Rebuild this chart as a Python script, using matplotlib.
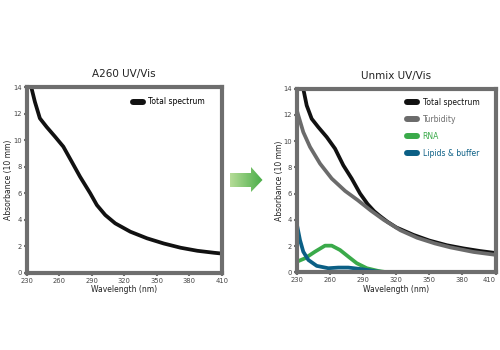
import numpy as np
import matplotlib
matplotlib.use('Agg')
import matplotlib.pyplot as plt
from matplotlib.patches import Polygon

plt.rcParams['font.family'] = ['DejaVu Sans']

# data
wl_left = [232.5, 234.6, 237.7, 242.3, 248.5, 256.2, 263.9, 271.6, 279.3, 288.6, 294.8, 302.5,
           311.7, 325.6, 341, 356.4, 371.9, 387.3, 402.7, 410]
total_left = [15.0, 13.93, 12.9, 11.65, 11.0, 10.27, 9.51, 8.38, 7.24, 6.0, 5.1, 4.35,
              3.72, 3.09, 2.59, 2.2, 1.88, 1.65, 1.5, 1.44]

wl_total = [234.2, 235.7, 238.8, 243.3, 249.3, 257, 264.5, 272, 279.6, 287.2, 294, 300,
            305, 312, 320, 335.6, 350, 365.9, 381, 396, 410]
total_right = [15.0, 13.98, 12.71, 11.7, 11.06, 10.3, 9.42, 8.15, 7.14, 6.0, 5.2, 4.65,
               4.3, 3.85, 3.42, 2.85, 2.42, 2.06, 1.82, 1.62, 1.47]

wl_turb = [230, 231.2, 235.7, 241.8, 250.9, 261.5, 273.6, 285, 297, 308.6, 323.8, 339,
           355, 369, 390, 410]
turbidity = [12.3, 11.95, 10.68, 9.55, 8.28, 7.14, 6.2, 5.5, 4.7, 4.0, 3.2, 2.63,
             2.2, 1.9, 1.55, 1.33]

wl_rna = [230, 237.3, 246.3, 255.4, 261.5, 269, 276.6, 284.2, 293.3, 303.8, 312, 410]
rna = [0.81, 1.07, 1.57, 2.03, 2.03, 1.7, 1.19, 0.69, 0.31, 0.1, 0.0, 0.0]

wl_lip = [230, 230.6, 232.7, 235.7, 240.3, 247.9, 258.4, 267.5, 276.6, 288.7, 300.8, 310, 410]
lipids = [3.6, 3.35, 2.46, 1.57, 0.94, 0.49, 0.31, 0.36, 0.36, 0.24, 0.08, 0.0, 0.0]

xticks = [230, 260, 290, 320, 350, 380, 410]
yticks = [0, 2, 4, 6, 8, 10, 12, 14]

c_total = '#111111'
c_turb = '#6b6b6b'
c_rna = '#3aaa4a'
c_lip = '#0b5f85'
c_frame = '#6e6e6e'
lw = 2.7


def style_ax(ax, title):
    ax.set_xlim(230, 410)
    ax.set_ylim(0, 14)
    ax.set_xticks(xticks)
    ax.set_yticks(yticks)
    for s in ax.spines.values():
        s.set_color(c_frame)
        s.set_linewidth(3)
    ax.tick_params(axis='both', labelsize=4.9, colors=c_frame, labelcolor='#444444',
                   length=2, width=1.5, pad=1.5)
    ax.set_xlabel('Wavelength (nm)', fontsize=5.5, labelpad=1, color='#222222')
    ax.set_ylabel('Absorbance (10 mm)', fontsize=5.5, labelpad=0, color='#222222')
    ax.set_title(title, fontsize=7.5, pad=7, color='#222222')


def draw(ax, x, y, color, label):
    ax.plot(x, y, color=color, lw=lw, solid_capstyle='round', solid_joinstyle='round', label=label)


def add_legend(ax, anchor, colored):
    leg = ax.legend(loc='upper right', fontsize=5.5, frameon=False, handlelength=1.3,
                    handletextpad=0.7, borderaxespad=0, borderpad=0, labelspacing=1.05,
                    bbox_to_anchor=anchor, labelcolor='linecolor' if colored else None)
    for ln in leg.get_lines():
        ln.set_linewidth(4.3)
        ln.set_solid_capstyle('round')


fig = plt.figure(figsize=(5, 3.5), dpi=100)
ax1 = fig.add_axes([0.053, 0.221, 0.391, 0.530])
ax2 = fig.add_axes([0.594, 0.222, 0.397, 0.525])

draw(ax1, wl_left, total_left, c_total, 'Total spectrum')
style_ax(ax1, 'A260 UV/Vis')
add_legend(ax1, (0.913, 0.945), False)

draw(ax2, wl_total, total_right, c_total, 'Total spectrum')
draw(ax2, wl_turb, turbidity, c_turb, 'Turbidity')
draw(ax2, wl_rna, rna, c_rna, 'RNA')
draw(ax2, wl_lip, lipids, c_lip, 'Lipids & buffer')
style_ax(ax2, 'Unmix UV/Vis')
add_legend(ax2, (0.919, 0.95), True)
# keep the last tick label inside the figure
ax2.get_xticklabels()[-1].set_horizontalalignment('right')

# green gradient arrow between the panels
arr = fig.add_axes([0, 0, 1, 1], zorder=-1)
arr.set_xlim(0, 500)
arr.set_ylim(350, 0)
arr.axis('off')
pts = [(230, 173), (251, 173), (251, 167), (262.5, 180), (251, 192), (251, 187), (230, 187)]
poly = Polygon(pts, closed=True, facecolor='none', edgecolor='none')
arr.add_patch(poly)
grad = np.linspace(0, 1, 64).reshape(1, -1)
cmap = matplotlib.colors.LinearSegmentedColormap.from_list('g', ['#b5dc97', '#49ad48'])
im = arr.imshow(grad, extent=(230, 262.5, 192, 167), cmap=cmap, aspect='auto')
im.set_clip_path(poly)

fig.savefig('out.png', dpi=100)
